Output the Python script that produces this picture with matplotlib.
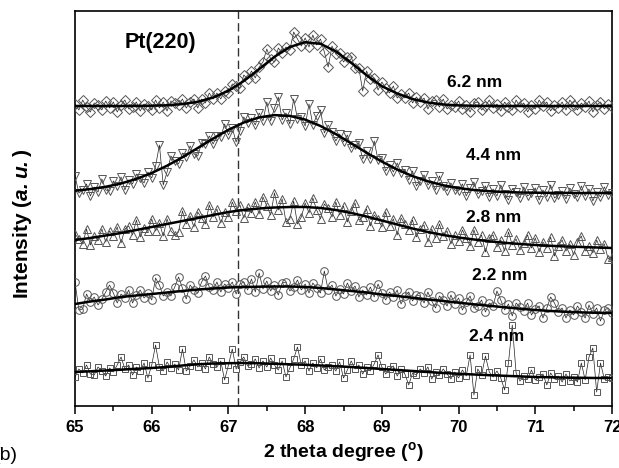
import numpy as np
import matplotlib
matplotlib.use("Agg")
import matplotlib.pyplot as plt

plt.rcParams['font.family'] = ['Liberation Sans', 'DejaVu Sans']
plt.rcParams['mathtext.fontset'] = 'custom'
plt.rcParams['mathtext.rm'] = 'Liberation Sans'
plt.rcParams['mathtext.bf'] = 'Liberation Sans:bold'
plt.rcParams['mathtext.bfit'] = 'Liberation Sans:italic:bold'

# measured points, 65.00 .. 72.00 deg in 0.05 steps (141 each)
two_theta = np.round(65 + 0.05 * np.arange(141), 2)

obs_62 = [303, 297, 307, 300, 295, 304, 302, 297, 306, 299,
          305, 295, 302, 307, 298, 300, 305, 296, 303, 301,
          297, 307, 299, 305, 296, 306, 304, 302, 308, 299,
          305, 308, 299, 308, 304, 314, 308, 314, 308, 316,
          314, 323, 321, 319, 332, 328, 336, 329, 340, 345,
          358, 348, 345, 359, 354, 360, 357, 375, 368, 361,
          369, 360, 372, 362, 368, 355, 340, 361, 353, 354,
          345, 350, 350, 339, 339, 316, 336, 328, 329, 317,
          325, 319, 314, 321, 309, 313, 309, 314, 304, 310,
          305, 309, 298, 306, 307, 300, 308, 298, 302, 300,
          306, 298, 302, 295, 304, 305, 297, 301, 307, 299,
          303, 296, 305, 300, 297, 307, 300, 304, 295, 302,
          298, 307, 301, 305, 296, 302, 299, 305, 297, 307,
          302, 297, 304, 300, 306, 295, 302, 305, 298, 303,
          300]

obs_44 = [231, 214, 217, 223, 211, 220, 215, 228, 217, 216,
          226, 221, 230, 217, 227, 223, 233, 229, 224, 235,
          229, 241, 262, 222, 235, 251, 246, 243, 254, 250,
          261, 253, 251, 264, 263, 271, 263, 271, 270, 283,
          272, 279, 265, 276, 290, 284, 289, 282, 294, 286,
          305, 286, 299, 310, 287, 294, 283, 308, 288, 290,
          281, 303, 282, 291, 297, 274, 282, 275, 266, 273,
          265, 272, 259, 262, 264, 248, 256, 248, 266, 247,
          249, 236, 242, 235, 244, 234, 237, 227, 236, 221,
          226, 232, 222, 226, 217, 231, 221, 216, 224, 217,
          216, 223, 211, 219, 225, 213, 216, 221, 210, 218,
          211, 222, 213, 207, 218, 215, 209, 220, 211, 214,
          219, 207, 217, 210, 222, 209, 212, 216, 208, 219,
          213, 210, 221, 211, 218, 206, 215, 210, 220, 212,
          214]

obs_28 = [173, 168, 163, 178, 162, 171, 167, 178, 165, 176,
          171, 180, 164, 178, 181, 172, 187, 170, 179, 176,
          188, 176, 184, 171, 188, 176, 172, 175, 196, 183,
          191, 180, 195, 189, 183, 202, 190, 198, 184, 195,
          190, 205, 196, 202, 189, 200, 194, 205, 193, 210,
          201, 192, 214, 197, 208, 185, 188, 206, 183, 190,
          204, 194, 209, 197, 188, 203, 199, 190, 205, 192,
          201, 185, 196, 204, 187, 190, 198, 181, 192, 188,
          180, 195, 181, 188, 172, 189, 183, 177, 187, 170,
          178, 182, 165, 178, 169, 183, 171, 176, 163, 172,
          166, 177, 169, 161, 177, 165, 172, 155, 169, 172,
          160, 167, 156, 175, 162, 168, 157, 164, 172, 159,
          169, 155, 165, 159, 170, 151, 161, 167, 156, 163,
          152, 165, 171, 156, 161, 154, 167, 158, 163, 148,
          150]

obs_22 = [125, 97, 98, 113, 105, 110, 102, 108, 115, 122,
          114, 104, 113, 109, 117, 104, 112, 117, 109, 114,
          107, 129, 122, 111, 115, 111, 120, 130, 119, 108,
          122, 117, 114, 125, 131, 120, 117, 125, 115, 123,
          119, 125, 113, 123, 125, 117, 128, 115, 134, 118,
          126, 116, 122, 112, 124, 125, 116, 120, 127, 117,
          123, 114, 124, 119, 114, 136, 117, 122, 111, 118,
          113, 124, 116, 121, 110, 117, 112, 120, 110, 123,
          114, 107, 115, 110, 117, 103, 111, 115, 106, 112,
          111, 104, 115, 106, 99, 111, 107, 101, 112, 103,
          109, 97, 105, 111, 99, 101, 107, 95, 104, 101,
          116, 107, 97, 103, 91, 104, 100, 96, 104, 92,
          98, 101, 89, 99, 110, 104, 95, 99, 89, 97,
          92, 101, 95, 89, 102, 93, 99, 86, 97, 99,
          94]

obs_24 = [30, 38, 34, 42, 33, 32, 40, 36, 31, 39,
          35, 42, 50, 38, 42, 32, 40, 36, 44, 29,
          42, 62, 40, 36, 45, 39, 43, 37, 58, 36,
          41, 47, 40, 44, 38, 50, 43, 40, 46, 27,
          42, 58, 38, 45, 50, 41, 43, 48, 39, 46,
          40, 49, 42, 37, 46, 30, 39, 48, 60, 42,
          46, 36, 44, 39, 48, 37, 40, 42, 36, 45,
          29, 37, 46, 38, 42, 33, 40, 36, 43, 52,
          40, 33, 38, 41, 31, 38, 33, 22, 34, 32,
          38, 34, 40, 28, 35, 32, 38, 33, 28, 35,
          29, 37, 31, 52, 12, 38, 32, 51, 35, 30,
          36, 29, 17, 44, 82, 34, 26, 31, 28, 37,
          27, 30, 33, 22, 34, 28, 31, 25, 33, 26,
          30, 25, 44, 27, 50, 59, 15, 44, 28, 30,
          29]

# fitted curves, 65.0 .. 72.0 deg in 0.2 steps
fit_theta = np.round(65 + 0.2 * np.arange(36), 1)
fit_62 = [301.0, 301.0, 301.0, 301.0, 301.1, 301.3, 301.7, 302.9, 305.2, 309.4,
          316.3, 326.0, 337.9, 350.2, 360.0, 364.8, 363.2, 355.6, 344.2, 331.8,
          320.8, 313.5, 308.0, 304.5, 302.5, 301.6, 301.2, 301.0, 301.0, 301.0,
          301.0, 301.0, 301.0, 301.0, 301.0, 301.0]
fit_44 = [216.3, 217.9, 220.2, 223.5, 228.1, 234.0, 241.3, 249.7, 259.0, 268.4,
          277.2, 284.5, 289.6, 291.9, 291.1, 287.4, 281.0, 272.9, 263.7, 254.3,
          245.4, 237.5, 230.9, 225.7, 221.7, 218.9, 217.0, 215.8, 215.0, 214.5,
          214.3, 214.1, 214.1, 214.0, 214.0, 214.0]
fit_28 = [167, 169, 171.5, 174, 177, 180, 183, 186, 189, 192,
          195, 197, 198.5, 199.5, 200, 200, 199, 197, 194, 190.5,
          186.5, 182.5, 178.5, 175, 172, 169.5, 167.5, 165.7, 164.2, 163,
          162, 161.2, 160.5, 160, 159.5, 159]
fit_22 = [103, 105.5, 107.5, 110, 111.5, 113, 114.5, 116, 117.5, 118.5,
          119.5, 120, 120.3, 120.5, 120.5, 120, 119, 117.5, 116, 114.5,
          112.5, 111, 109.2, 107.5, 106, 104.3, 102.7, 101.2, 99.7, 98.3,
          97, 96, 95.2, 94.6, 94.2, 94]
fit_24 = [35, 35.7, 36.5, 37.3, 38.2, 39, 40, 41.5, 42.7, 43.5,
          43.8, 44, 43.7, 43.2, 42.7, 42.2, 41.5, 40.7, 40, 39,
          38, 37, 36, 35, 34, 33.2, 32.5, 31.8, 31.2, 30.6,
          30, 29.7, 29.4, 29.2, 29, 29]

sizes = ["6.2 nm", "4.4 nm", "2.8 nm", "2.2 nm", "2.4 nm"]
observed = [obs_62, obs_44, obs_28, obs_22, obs_24]
fits = [fit_62, fit_44, fit_28, fit_22, fit_24]
markers = ["D", "v", "^", "o", "s"]
msizes = [5.5, 6, 6, 5.5, 5]
label_pos = [(70.21, 324), (70.45, 251), (70.46, 189), (70.54, 131), (70.50, 70)]
peak_ref = 67.13

fig = plt.figure(figsize=(6.19, 4.68), dpi=100)
ax = fig.add_axes([0.1212, 0.1325, 0.8675, 0.844])

for obs, fit, mk, ms in zip(observed, fits, markers, msizes):
    ax.plot(two_theta, obs, color="#222222", lw=0.5, zorder=2)
    ax.plot(two_theta, obs, ls="none", marker=mk, ms=ms, mfc="none",
            mec="#555555", mew=0.7, zorder=3)
    ax.plot(fit_theta, fit, color="black", lw=1.8, zorder=4,
            solid_joinstyle="round")

for name, (lx, ly) in zip(sizes, label_pos):
    ax.text(lx, ly, name, ha="center", va="center", fontsize=12.5,
            fontweight="bold", zorder=5)

ax.text(66.11, 364, "Pt(220)", ha="center", va="center", fontsize=15.5,
        fontweight="bold")

ax.axvline(peak_ref, color="#333333", lw=1.0, ls=(0, (6, 3)), zorder=1)

ax.set_xlim(65, 72)
ax.set_ylim(1, 396)
ax.set_yticks([])
ax.set_xticks(range(65, 73), [str(v) for v in range(65, 73)],
              fontweight="bold")
ax.set_xticks(np.arange(65.5, 72, 1.0), minor=True)
ax.tick_params(axis="x", which="major", direction="out", length=6,
               width=1.1, labelsize=12, pad=4)
ax.tick_params(axis="x", which="minor", direction="out", length=3.5,
               width=1.1)
for sp in ax.spines.values():
    sp.set_linewidth(1.2)

ax.set_xlabel(r"2 theta degree ($^{\mathbf{o}}$)", fontsize=14,
              fontweight="bold", labelpad=4)
fig.text(22 / 619, 1 - 224 / 468, r"Intensity ($\mathbfit{a.u.}$)",
         rotation=90, ha="center", va="center", fontsize=15,
         fontweight="bold")
fig.text(-6 / 619, 1 - 455 / 468, "(b)", ha="left", va="center",
         fontsize=14)

fig.savefig("out.png", dpi=100)
